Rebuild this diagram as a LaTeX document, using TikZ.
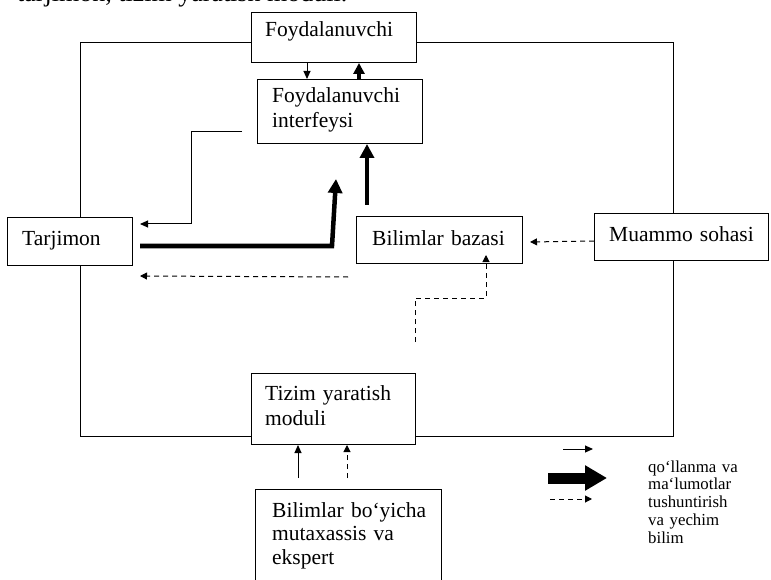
\documentclass[tikz,border=0pt]{standalone}
\usepackage{fontspec}
\setmainfont{Liberation Serif}
\usetikzlibrary{arrows.meta}
\begin{document}
\begin{tikzpicture}[x=1pt,y=-1pt,
  box/.style={draw, line width=1pt, anchor=north west, inner sep=0pt},
  txt/.style={inner sep=0pt, anchor=base west, align=left, text width=200pt,
    font=\fontsize{21.5}{25}\selectfont},
  legtxt/.style={inner sep=0pt, anchor=base west, align=left, text width=120pt,
    font=\fontsize{16.8}{17.8}\selectfont},
  ln/.style={line width=1pt},
  thinarr/.style={line width=1pt, -{Triangle[length=8pt,width=7pt]}},
  thickarr/.style={line width=4.5pt, line join=miter, -{Triangle[length=14pt,width=14pt]}},
  dasharr/.style={line width=1pt, dash pattern=on 5pt off 4pt, -{Triangle[length=7pt,width=7pt]}}]
\useasboundingbox (0,0) rectangle (771,580);

% partly visible heading
\node[inner sep=0pt, anchor=base west, font=\fontsize{26}{30}\selectfont] (title) at (17,2) {tarjimon, tizim yaratish moduli.};

% boxes
\node[box, minimum width=165pt, minimum height=50pt] (fu) at (251,12) {};
\node[box, minimum width=165pt, minimum height=64pt] (fi) at (257,79) {};
\node[box, minimum width=125pt, minimum height=48pt] (tj) at (7,217) {};
\node[box, minimum width=166pt, minimum height=47pt] (bb) at (356,216) {};
\node[box, minimum width=174pt, minimum height=47pt] (ms) at (594,213) {};
\node[box, minimum width=164pt, minimum height=71pt] (tz) at (251,373) {};
\node[box, minimum width=186pt, minimum height=100pt] (ex) at (255,489) {};

% texts
\node[txt] (tfu) at (265,37) {Foydalanuvchi};
\node[txt] (tfi) at (272,103) {Foydalanuvchi\\interfeysi};
\node[txt] (ttj) at (22,245) {Tarjimon};
\node[txt] (tbb) at (372,245) {Bilimlar bazasi};
\node[txt] (tms) at (609,241) {Muammo sohasi};
\node[txt] (ttz) at (265,400) {Tizim yaratish\\moduli};
\node[txt, font=\fontsize{21.5}{23.5}\selectfont] (tex) at (272,517) {Bilimlar bo`yicha\\mutaxassis va\\ekspert};

% frame
\draw[ln] (fu.west |- 0,43) -- (80,43) -- (80,0 |- tj.north);
\draw[ln] (80,0 |- tj.south) -- (80,436) -- (tz.west |- 0,436);
\draw[ln] (tz.east |- 0,436) -- (673,436) -- (673,0 |- ms.south);
\draw[ln] (673,0 |- ms.north) -- (673,43) -- (fu.east |- 0,43);

% connectors
\draw[thinarr] (307,0 |- fu.south) -- (307,0 |- fi.north);
\draw[thickarr, -{Triangle[length=11pt,width=11pt]}, line width=3.5pt] (359,0 |- fi.north) -- (359,0 |- fu.south);

\coordinate (c1) at (242,132);
\coordinate (c2) at (140,224);
\draw[thinarr] (c1) -- (191,132) -- (191,224) -- (c2);

\coordinate (c3) at (140,246);
\coordinate (c4) at (336,179);
\draw[thickarr] (c3) -- (332,246) -- (c4);

\coordinate (c5) at (367,205);
\draw[thickarr] (c5) -- (367,0 |- fi.south);

\coordinate (c6) at (348,277);
\coordinate (c7) at (140,276);
\draw[dasharr] (c6) -- (c7);

\coordinate (c8) at (530,242);
\draw[dasharr] (ms.west |- 0,241) -- (c8);

\coordinate (c9) at (415,342);
\coordinate (c10) at (486,255);
\draw[dasharr] (c9) -- (415,298) -- (486,298) -- (c10);

\coordinate (c11) at (298,478);
\draw[thinarr] (c11) -- (298,0 |- tz.south);
\coordinate (c12) at (347,478);
\draw[dasharr] (c12) -- (347,0 |- tz.south);

% legend
\coordinate (l1a) at (563,449); \coordinate (l1b) at (593,449);
\draw[thinarr] (l1a) -- (l1b);
\coordinate (l2a) at (548,478); \coordinate (l2b) at (607,478);
\draw[line width=11pt, -{Triangle[length=22pt,width=24pt]}] (l2a) -- (l2b);
\coordinate (l3a) at (550,499); \coordinate (l3b) at (592,499);
\draw[dasharr] (l3a) -- (l3b);
\node[legtxt] (leg) at (648,472) {qo`llanma va\\ma`lumotlar\\tushuntirish\\va yechim\\bilim};
\end{tikzpicture}
\end{document}
